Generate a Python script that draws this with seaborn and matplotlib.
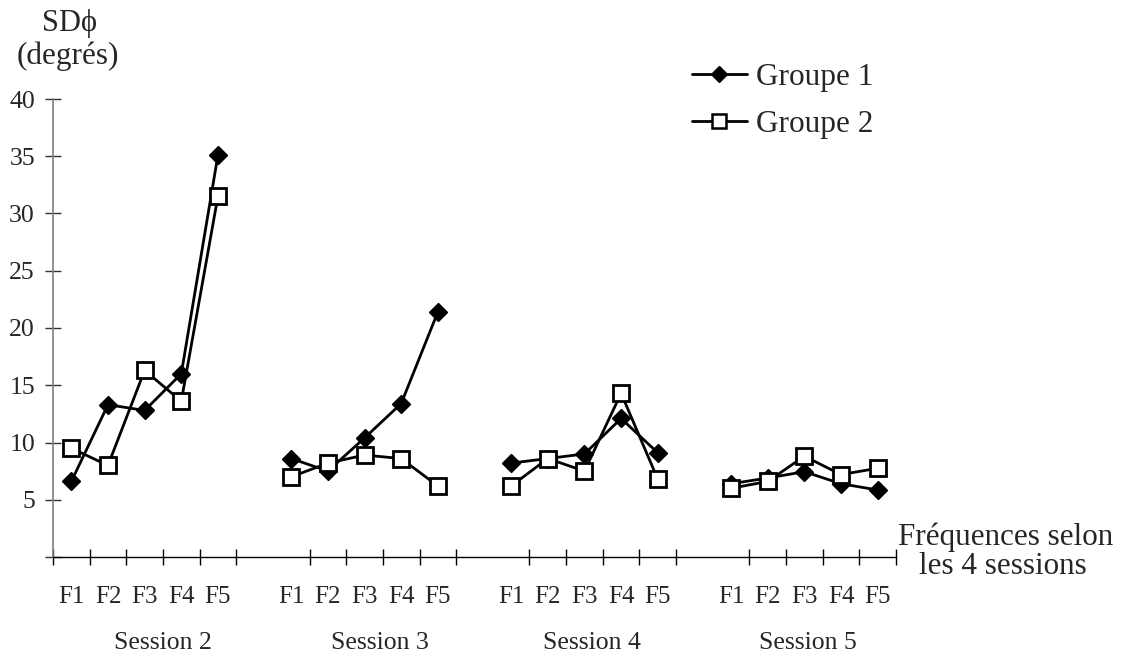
"""SD phi per frequency across sessions, two groups"""

import matplotlib.pyplot as plt
from matplotlib.lines import Line2D
import seaborn as sns
import pandas as pd
import numpy as np


# values
sessions = ['Session 2', 'Session 3', 'Session 4', 'Session 5']
freqs = ['F1', 'F2', 'F3', 'F4', 'F5']
groupe1 = [
    [6.6, 13.3, 12.8, 16.0, 35.1],
    [8.6, 7.5, 10.4, 13.4, 21.4],
    [8.2, 8.6, 9.0, 12.1, 9.1],
    [6.4, 6.9, 7.45, 6.4, 5.85],
]
groupe2 = [
    [9.5, 8.0, 16.3, 13.6, 31.5],
    [7.0, 8.2, 8.9, 8.6, 6.2],
    [6.2, 8.6, 7.5, 14.3, 6.8],
    [6.0, 6.6, 8.8, 7.2, 7.75],
]
y_ticks = [0, 5, 10, 15, 20, 25, 30, 35, 40]
y_tick_labels = ['', '5', '10', '15', '20', '25', '30', '35', '40']


# each session takes 6 category slots (5 frequencies + one blank)
rows = []
for s, sess in enumerate(sessions):
    for f, fr in enumerate(freqs):
        pos = s * 6 + f + 0.5
        rows.append({'session': sess, 'freq': fr, 'x': pos,
                     'group': 'Groupe 1', 'sd': groupe1[s][f]})
        rows.append({'session': sess, 'freq': fr, 'x': pos,
                     'group': 'Groupe 2', 'sd': groupe2[s][f]})
df = pd.DataFrame(rows)

sns.set_style('white')
plt.rcParams['font.family'] = ['Liberation Serif', 'DejaVu Serif']

fig = plt.figure(figsize=(11.23, 6.57), dpi=100)
ax = fig.add_axes([53 / 1123, 1 - 557 / 657, (896 - 53) / 1123, (557 - 99) / 657])

lw = 2.0
sns.lineplot(data=df[df.group == 'Groupe 1'], x='x', y='sd', units='session',
             estimator=None, ax=ax, color='black', linewidth=lw,
             marker='D', markersize=9.5, markerfacecolor='black',
             markeredgecolor='black', markeredgewidth=1, legend=False)
sns.lineplot(data=df[df.group == 'Groupe 2'], x='x', y='sd', units='session',
             estimator=None, ax=ax, color='black', linewidth=lw,
             marker='s', markersize=11, markerfacecolor='white',
             markeredgecolor='black', markeredgewidth=2, legend=False)

ax.set_xlim(0, 23)
ax.set_ylim(0, 40)
ax.set_xlabel('')
ax.set_ylabel('')

# tick marks on slot boundaries (none before each session's F1 except the first)
bounds = [b for b in range(24) if b not in (6, 12, 18)]
ax.set_xticks(bounds)
ax.set_xticklabels([])
ax.set_xticks(df['x'].unique(), minor=True)
ax.set_xticklabels(freqs * len(sessions), minor=True, fontsize=18)
ax.tick_params(axis='x', which='major', direction='inout', length=11,
               width=1, color='black', bottom=True)
ax.tick_params(axis='x', which='minor', length=0, pad=21, bottom=True)

ax.set_yticks(y_ticks)
ax.set_yticklabels(y_tick_labels, fontsize=18.5)
ax.tick_params(axis='y', direction='inout', length=11, width=1,
               color='#333333', pad=7.5, left=True)

for side in ['top', 'right']:
    ax.spines[side].set_visible(False)
ax.spines['left'].set_color('#808080')
ax.spines['left'].set_linewidth(1.2)
ax.spines['bottom'].set_color('black')
ax.spines['bottom'].set_linewidth(1)

# legend
handles = [
    Line2D([], [], color='black', lw=lw, marker='D', markersize=8,
           markerfacecolor='black', markeredgecolor='black'),
    Line2D([], [], color='black', lw=lw, marker='s', markersize=10,
           markerfacecolor='white', markeredgecolor='black', markeredgewidth=1.8),
]
fig.legend(handles, ['Groupe 1', 'Groupe 2'], loc='upper left',
           bbox_to_anchor=(692 / 1123, 1 - 63 / 657), frameon=False,
           fontsize=22.5, handlelength=1.75, handletextpad=0.3,
           labelspacing=0.58, borderpad=0, borderaxespad=0)

# axis titles and session labels
fig.text(69 / 1123, 1 - 23 / 657, 'SDϕ', ha='center', va='center', fontsize=22)
fig.text(68 / 1123, 1 - 56 / 657, '(degrés)', ha='center', va='center', fontsize=22.5)
fig.text(1006 / 1123, 1 - 537 / 657, 'Fréquences selon', ha='center',
         va='center', fontsize=22.4)
fig.text(1003 / 1123, 1 - 566 / 657, 'les 4 sessions', ha='center',
         va='center', fontsize=22.4)
for sess, cx in zip(sessions, [163, 380, 592, 808]):
    fig.text(cx / 1123, 1 - 643 / 657, sess, ha='center', va='center', fontsize=18.5)

fig.savefig('out.png', dpi=100, facecolor='white')
